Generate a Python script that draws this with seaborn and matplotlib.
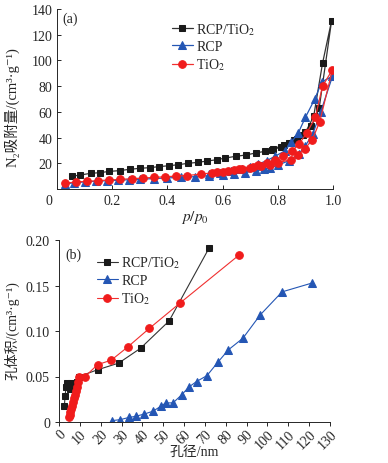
import numpy as np
import pandas as pd
import matplotlib
matplotlib.use("Agg")
import matplotlib.pyplot as plt
import matplotlib.transforms as mtransforms
import seaborn as sns

# ---------------- data: panel (a) N2 adsorption-desorption isotherms ----------------
comp_p_ads = [0.054, 0.085, 0.122, 0.155, 0.19, 0.227, 0.263, 0.30, 0.336, 0.37, 0.405, 0.44, 0.475,
              0.51, 0.545, 0.58, 0.61, 0.647, 0.683, 0.72, 0.753, 0.783, 0.822, 0.857, 0.89, 0.922, 0.95, 0.995]
comp_v_ads = [9.9, 10.9, 12.2, 12.7, 13.7, 14.3, 15.3, 16.1, 16.6, 17.4, 18.1, 18.9, 20.0,
              20.7, 21.8, 22.8, 24.1, 25.4, 26.4, 28.0, 29.3, 31.1, 34.5, 38.4, 42.0, 48.7, 63.0, 131.0]
comp_p_des = [0.962, 0.93, 0.90, 0.87, 0.84, 0.81, 0.78]
comp_v_des = [97.7, 56.5, 44.0, 39.0, 35.5, 32.5, 30.5]

rcp_p_ads = [0.03, 0.06, 0.10, 0.14, 0.18, 0.22, 0.26, 0.30, 0.35, 0.40, 0.45, 0.50, 0.55, 0.60,
             0.64, 0.68, 0.72, 0.75, 0.77, 0.80, 0.84, 0.875, 0.90, 0.927, 0.955, 0.998]
rcp_v_ads = [3.9, 4.8, 5.5, 6.0, 6.4, 6.8, 7.2, 7.6, 8.1, 8.6, 9.1, 9.6, 10.3, 11.0,
             11.8, 12.8, 14.0, 15.3, 16.5, 18.5, 22.0, 27.0, 33.7, 43.0, 59.6, 87.6]
rcp_p_des = [0.96, 0.934, 0.90, 0.874, 0.849, 0.825, 0.79, 0.76, 0.73, 0.70, 0.67, 0.63, 0.59, 0.55]
rcp_v_des = [83.5, 70.0, 55.7, 43.5, 36.3, 29.5, 25.5, 22.0, 19.5, 17.5, 15.8, 14.3, 12.8, 11.8]

tio2_p_ads = [0.03, 0.07, 0.11, 0.15, 0.19, 0.23, 0.27, 0.31, 0.35, 0.39, 0.43, 0.47, 0.52, 0.56,
              0.60, 0.64, 0.67, 0.71, 0.74, 0.77, 0.80, 0.849, 0.873, 0.897, 0.925, 0.952, 0.998]
tio2_v_ads = [4.5, 5.5, 6.0, 6.5, 7.0, 7.5, 8.0, 8.5, 9.0, 9.5, 10.0, 10.5, 11.5, 12.5,
              13.5, 14.5, 15.5, 17.0, 18.0, 19.0, 20.5, 22.8, 26.7, 31.0, 38.4, 52.4, 92.8]
tio2_p_des = [0.962, 0.936, 0.905, 0.877, 0.85, 0.82, 0.79, 0.76, 0.73, 0.70, 0.66, 0.62, 0.58]
tio2_v_des = [80.0, 55.7, 43.6, 35.0, 29.3, 25.5, 22.5, 20.3, 18.3, 16.7, 15.3, 14.0, 13.0]

# ---------------- data: panel (b) pore size distribution ----------------
comp_d = [2.6, 2.9, 3.4, 3.9, 4.5, 5.2, 5.9, 6.6, 7.5, 8.8, 9.6, 18.5, 28.6, 39.1, 52.8, 71.9]
comp_pv = [0.0177, 0.0287, 0.038, 0.0434, 0.041, 0.036, 0.043, 0.038, 0.042, 0.044, 0.050,
           0.0574, 0.0647, 0.081, 0.111, 0.1908]
tio2_d = [4.9, 5.2, 5.5, 5.9, 6.3, 6.7, 7.1, 7.6, 8.1, 8.7, 9.3, 9.8, 12.5, 18.5, 25.1, 33.1, 43.4, 58.2, 86.4]
tio2_pv = [0.006, 0.008, 0.011, 0.014, 0.018, 0.022, 0.026, 0.030, 0.034, 0.038, 0.044, 0.049,
           0.050, 0.063, 0.068, 0.0827, 0.103, 0.131, 0.1835]
rcp_d = [25.4, 29.4, 33.5, 36.7, 41.0, 45.0, 49.1, 51.2, 54.7, 58.9, 62.4, 66.0, 71.0, 76.1,
         81.3, 88.2, 96.5, 107.0, 121.2]
rcp_pv = [0.0015, 0.0026, 0.005, 0.0062, 0.0088, 0.0118, 0.0176, 0.021, 0.021, 0.030, 0.0386,
          0.0445, 0.051, 0.0654, 0.0794, 0.092, 0.1176, 0.143, 0.1526]

labels = ["RCP/TiO$_2$", "RCP", "TiO$_2$"]
xticks_a = [0, 0.2, 0.4, 0.6, 0.8, 1.0]
xticklabels_a = ["0", "0.2", "0.4", "0.6", "0.8", "1.0"]
yticks_a = [20, 40, 60, 80, 100, 120, 140]
xticks_b = list(range(0, 131, 10))
yticks_b = [0, 0.05, 0.10, 0.15, 0.20]
yticklabels_b = ["0", "0.05", "0.10", "0.15", "0.20"]

# ---------------- style ----------------
sns.set_style("ticks")
plt.rcParams['font.family'] = ['Liberation Serif', 'Noto Sans CJK SC', 'DejaVu Serif']
plt.rcParams['mathtext.fontset'] = 'stix'
plt.rcParams['font.size'] = 9

col_black, col_blue, col_red = "#1a1a1a", "#2456b4", "#f01c1c"
line_black, line_blue, line_red = "#333333", "#2456b4", "#f03030"

fig = plt.figure(figsize=(3.88, 4.64), dpi=100)
ax1 = fig.add_axes([57/388, 1 - 190/464, 276/388, 180/464])
ax2 = fig.add_axes([59/388, 1 - 423/464, 271/388, 182/464])

def iso(p_ads, v_ads, p_des, v_des):
    return pd.DataFrame({"p": list(p_ads) + list(p_des), "v": list(v_ads) + list(v_des)})

series_a = [
    (iso(comp_p_ads, comp_v_ads, comp_p_des, comp_v_des), 's', col_black, line_black, labels[0], 4.5),
    (iso(rcp_p_ads, rcp_v_ads, rcp_p_des, rcp_v_des), '^', col_blue, line_blue, labels[1], 5.5),
    (iso(tio2_p_ads, tio2_v_ads, tio2_p_des, tio2_v_des), 'o', col_red, line_red, labels[2], 5.5),
]
for df, m, mc, lc, lab, ms in series_a:
    sns.lineplot(data=df, x="p", y="v", sort=False, estimator=None, ax=ax1, color=lc,
                 marker=m, markersize=ms, markerfacecolor=mc, markeredgecolor=mc,
                 linewidth=0.9, label=lab)

ax1.set_xlim(0, 1.0)
ax1.set_ylim(0, 140)
ax1.set_xticks(xticks_a)
ax1.set_xticklabels(xticklabels_a)
ax1.set_yticks(yticks_a)
ax1.tick_params(direction='in', length=3, width=0.7, labelsize=10)
# the corner "0" sits slightly left of the axis origin in the reference
first = ax1.get_xticklabels()[0]
first.set_transform(first.get_transform() +
                    mtransforms.ScaledTranslation(-8/100, 0, fig.dpi_scale_trans))
ax1.set_xlabel("$p/p_0$", fontsize=11, labelpad=1)
ax1.set_ylabel("N₂吸附量/(cm³·g⁻¹)", fontsize=10.5)
ax1.yaxis.set_label_coords(-(57 - 20) / 276, 0.46)
ax1.text(0.02, 0.985, "(a)", transform=ax1.transAxes, fontsize=10, va='top', ha='left')
ax1.legend(loc='upper left', bbox_to_anchor=(0.396, 0.965), frameon=False, fontsize=10,
           handlelength=1.5, handletextpad=0.25, labelspacing=0.25, borderaxespad=0)

series_b = [
    (pd.DataFrame({"d": comp_d, "v": comp_pv}), 's', col_black, line_black, labels[0], 4.5),
    (pd.DataFrame({"d": rcp_d, "v": rcp_pv}), '^', col_blue, line_blue, labels[1], 5.5),
    (pd.DataFrame({"d": tio2_d, "v": tio2_pv}), 'o', col_red, line_red, labels[2], 5.5),
]
for df, m, mc, lc, lab, ms in series_b:
    sns.lineplot(data=df, x="d", y="v", sort=False, estimator=None, ax=ax2, color=lc,
                 marker=m, markersize=ms, markerfacecolor=mc, markeredgecolor=mc,
                 linewidth=0.8, label=lab)

ax2.set_xlim(0, 130)
ax2.set_ylim(0, 0.20)
ax2.set_xticks(xticks_b)
ax2.set_yticks(yticks_b)
ax2.set_yticklabels(yticklabels_b)
ax2.tick_params(direction='out', length=3, width=0.7, labelsize=10)
ax2.tick_params(axis='x', pad=1)
for lbl in ax2.get_xticklabels():
    lbl.set_rotation(45)
    lbl.set_ha('right')
    lbl.set_rotation_mode('anchor')
ax2.set_xlabel("孔径/nm", fontsize=10)
ax2.xaxis.set_label_coords(0.5, -(452 - 423) / 182)
ax2.xaxis.label.set_va('center')
ax2.set_ylabel("孔体积/(cm³·g⁻¹)", fontsize=10)
ax2.yaxis.set_label_coords(-(59 - 20) / 271, 0.51)
ax2.text(0.025, 0.96, "(b)", transform=ax2.transAxes, fontsize=10, va='top', ha='left')
ax2.legend(loc='upper left', bbox_to_anchor=(0.12, 0.95), frameon=False, fontsize=10,
           handlelength=1.5, handletextpad=0.25, labelspacing=0.25, borderaxespad=0)

for ax in (ax1, ax2):
    sns.despine(ax=ax)
    for s in ax.spines.values():
        s.set_linewidth(0.7)

fig.savefig("out.png", dpi=100)
